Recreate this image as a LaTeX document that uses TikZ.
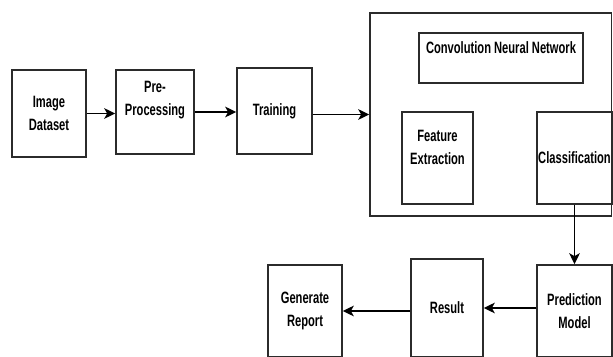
\documentclass[tikz,border=0pt]{standalone}
\usepackage{fontspec}
\setmainfont{Liberation Sans}[FakeStretch=0.68]
\usetikzlibrary{arrows.meta,positioning,calc}
\definecolor{edge}{HTML}{2B2B2B}

\begin{document}
\begin{tikzpicture}[
  box/.style={rectangle, draw=edge, line width=1.4pt, minimum width=2.22cm, minimum height=2.6cm, align=center,
    inner sep=0pt, font=\fontsize{14}{19.6}\selectfont\bfseries},
  lbl/.style={align=center, font=\fontsize{14}{19.6}\selectfont\bfseries},
  arr/.style={-{Stealth[length=3.3mm, width=3.2mm, inset=0.9mm]}, line width=1.3pt, black}
]
  \useasboundingbox (0,0) rectangle (18.39,10.68);
  \clip (0,0) rectangle (18.39,10.68);

  % top row
  \node[box, minimum height=2.61cm] (img) at (1.47,7.275) {Image\\Dataset};
  \node[box, minimum width=2.34cm, minimum height=2.52cm,
    label={[lbl, yshift=0.36cm]center:Pre-\\Processing}] (pre) at (4.65,7.32) {};
  \node[box, minimum width=2.25cm, minimum height=2.58cm] (train) at (8.235,7.35) {Training};

  % CNN block
  \node[box, minimum width=7.25cm, minimum height=6.09cm] (cnn) at (14.725,7.245) {};
  \node[box, minimum width=4.92cm, minimum height=1.5cm,
    label={[lbl, yshift=0.3cm]center:Convolution Neural Network}] (cnntitle) at (15.03,8.94) {};
  \node[box, minimum width=2.13cm, minimum height=2.76cm,
    label={[lbl, yshift=0.33cm]center:Feature\\Extraction}] (feat) at (13.125,5.94) {};
  \node[box, minimum width=2.25cm, minimum height=2.76cm] (cls) at (17.235,5.94) {Classification};

  % bottom row
  \node[box, minimum width=2.25cm, minimum height=2.76cm] (pred) at (17.235,1.35) {Prediction\\Model};
  \node[box, minimum width=2.16cm, minimum height=2.94cm] (res) at (13.41,1.44) {Result};
  \node[box, minimum width=2.22cm, minimum height=2.76cm] (gen) at (9.15,1.35) {Generate\\Report};

  \draw[arr] (img.east) -- (img.east -| pre.west);
  \draw[arr] (pre.east) -- (pre.east -| train.west);
  \draw[arr] (train.east |- cnn.west) -- (cnn.west);
  \draw[arr] (cls.south) -- (pred.north);
  \draw[arr] (res.east -| pred.west) -- (res.east);
  \draw[arr] (gen.east -| res.west) -- (gen.east);
\end{tikzpicture}
\end{document}
